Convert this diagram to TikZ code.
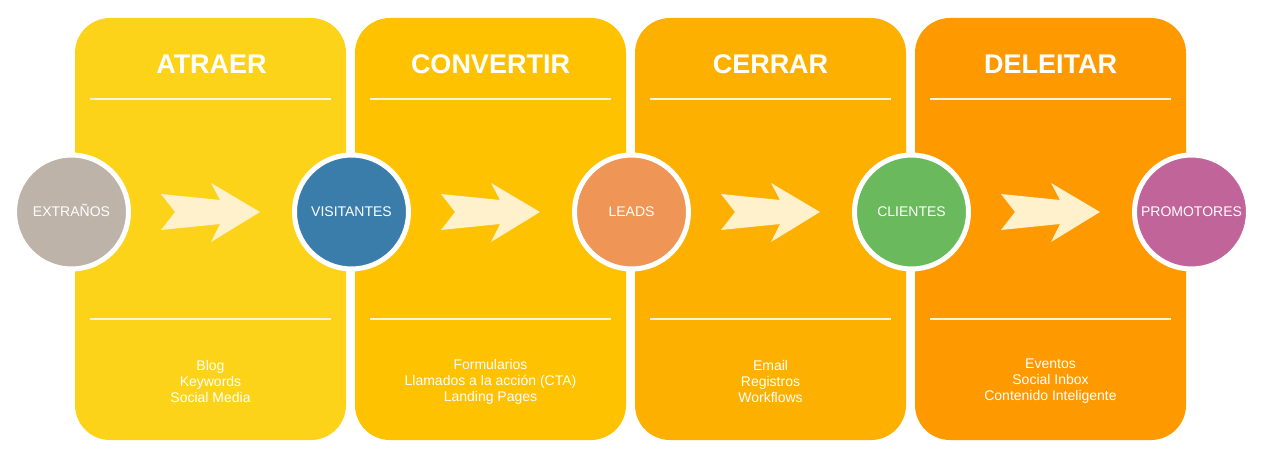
\documentclass[tikz,border=0pt]{standalone}
\usepackage{fontspec}
\setmainfont{Liberation Sans}
\definecolor{atraercol}{HTML}{FDD31A}
\definecolor{convertircol}{HTML}{FEC200}
\definecolor{cerrarcol}{HTML}{FEB000}
\definecolor{deleitarcol}{HTML}{FE9A00}
\definecolor{arrowclr}{HTML}{FFF1CC}
\definecolor{lineclr}{HTML}{FFF5D8}
\definecolor{extranoscol}{HTML}{BEB3A9}
\definecolor{visitantescol}{HTML}{3A7DAB}
\definecolor{leadscol}{HTML}{EF9555}
\definecolor{clientescol}{HTML}{6ABA5D}
\definecolor{promotorescol}{HTML}{C06499}
\begin{document}
\begin{tikzpicture}[x=1pt, y=1pt,
    panel/.style={rounded corners=35pt},
    sepline/.style={draw=lineclr, line width=2.5pt},
    stage/.style={circle, draw=white, line width=5pt, minimum size=114pt, inner sep=0pt,
        text=white, font=\fontsize{14}{16}\selectfont, text height=10pt, text depth=0pt},
    title/.style={anchor=base, text=white, font=\bfseries\fontsize{27}{31}\selectfont},
    items/.style={align=center, text=white, font=\fontsize{14}{16}\selectfont},
    flowarrow/.pic={\fill[arrowclr] (86,18) -- (145,12) -- (136,29) -- (185,0) -- (136,-30)
        -- (145,-12) -- (86,-18) -- (100,0) -- cycle;}
]
    \useasboundingbox (0,0) rectangle (1261,458);

    % Stage panels
    \fill[atraercol, panel] (75,18) rectangle (346,440);
    \fill[convertircol, panel] (355,18) rectangle (626,440);
    \fill[cerrarcol, panel] (635,18) rectangle (906,440);
    \fill[deleitarcol, panel] (915,18) rectangle (1186,440);

    % Separator lines
    \draw[sepline] (90,359) -- (331,359);  \draw[sepline] (90,139) -- (331,139);
    \draw[sepline] (370,359) -- (611,359); \draw[sepline] (370,139) -- (611,139);
    \draw[sepline] (650,359) -- (891,359); \draw[sepline] (650,139) -- (891,139);
    \draw[sepline] (930,359) -- (1171,359); \draw[sepline] (930,139) -- (1171,139);

    % Arrows between stages
    \pic at (75,246) {flowarrow};
    \pic at (355,246) {flowarrow};
    \pic at (635,246) {flowarrow};
    \pic at (915,246) {flowarrow};

    % Stages
    \node[stage, fill=extranoscol] (extranos) at (71.5,246) {EXTRAÑOS};
    \node[stage, fill=visitantescol] (visitantes) at (351.5,246) {VISITANTES};
    \node[stage, fill=leadscol] (leads) at (631.5,246) {LEADS};
    \node[stage, fill=clientescol] (clientes) at (911.5,246) {CLIENTES};
    \node[stage, fill=promotorescol] (promotores) at (1191.5,246) {PROMOTORES};

    % Titles
    \node[title] (atraer) at (211.5,384) {ATRAER};
    \node[title] (convertir) at (490.5,384) {CONVERTIR};
    \node[title] (cerrar) at (770.5,384) {CERRAR};
    \node[title] (deleitar) at (1050.5,384) {DELEITAR};

    % Tools per stage
    \node[items] (atraeritems) at (210.5,76.5) {Blog\\Keywords\\Social Media};
    \node[items] (convertiritems) at (490.5,76.5) {Formularios\\Llamados a la acción (CTA)\\Landing Pages};
    \node[items] (cerraritems) at (770.5,76.5) {Email\\Registros\\Workflows};
    \node[items] (deleitaritems) at (1050.5,76.5) {Eventos\\Social Inbox\\Contenido Inteligente};
\end{tikzpicture}
\end{document}
